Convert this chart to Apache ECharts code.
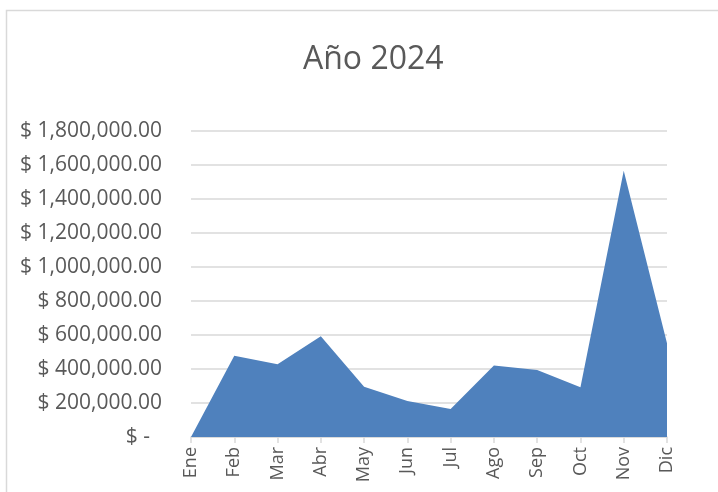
<!DOCTYPE html>
<html><head><meta charset="utf-8">
<script src="https://cdn.jsdelivr.net/npm/echarts@6/dist/echarts.min.js"></script>
<style>html,body{margin:0;padding:0;background:#fff}#c{width:718px;height:492px}</style>
</head><body><div id="c"></div>
<script>
const months = ['Ene','Feb','Mar','Abr','May','Jun','Jul','Ago','Sep','Oct','Nov','Dic'];
const sales = [0, 478000, 428000, 592000, 296000, 212000, 165000, 420000, 394000, 293000, 1566000, 551000];
const titleText = 'Año 2024';

function fmt(v){
  if(v===0) return '{z|$ -}';
  return '$ ' + v.toLocaleString('en-US',{minimumFractionDigits:2,maximumFractionDigits:2});
}
const chart = echarts.init(document.getElementById('c'));
chart.setOption({
  animation:false,
  backgroundColor:'#fff',
  graphic:[{type:'rect',shape:{x:6.5,y:10.5,width:800,height:600},style:{fill:'none',stroke:'#d9d9d9',lineWidth:1.5},silent:true}],
  title:{text:titleText,left:298,top:39,textStyle:{fontFamily:'Open Sans',fontSize:32,fontWeight:'normal',color:'#595959'}},
  grid:{left:191,right:51,top:131,bottom:55,containLabel:false},
  xAxis:{type:'category',data:months,boundaryGap:false,
    axisLine:{lineStyle:{color:'#d9d9d9',width:1.5}},
    axisTick:{show:true,length:6,alignWithLabel:true,lineStyle:{color:'#d9d9d9',width:1.5}},
    axisLabel:{rotate:90,margin:10,color:'#595959',fontSize:18,fontFamily:'Open Sans'},
    splitLine:{show:false}},
  yAxis:{type:'value',min:0,max:1800000,interval:200000,
    axisLine:{show:false},axisTick:{show:false},
    splitLine:{lineStyle:{color:'#d9d9d9',width:1.5}},
    axisLabel:{formatter:fmt,margin:29,color:'#595959',fontSize:21,fontFamily:'Open Sans',
      rich:{z:{fontSize:21,fontFamily:'Open Sans',color:'#595959',padding:[0,12,0,0]}}}},
  series:[{type:'line',data:sales,symbol:'none',lineStyle:{width:0},areaStyle:{color:'#4f81bd',opacity:1}}]
});
</script></body></html>
